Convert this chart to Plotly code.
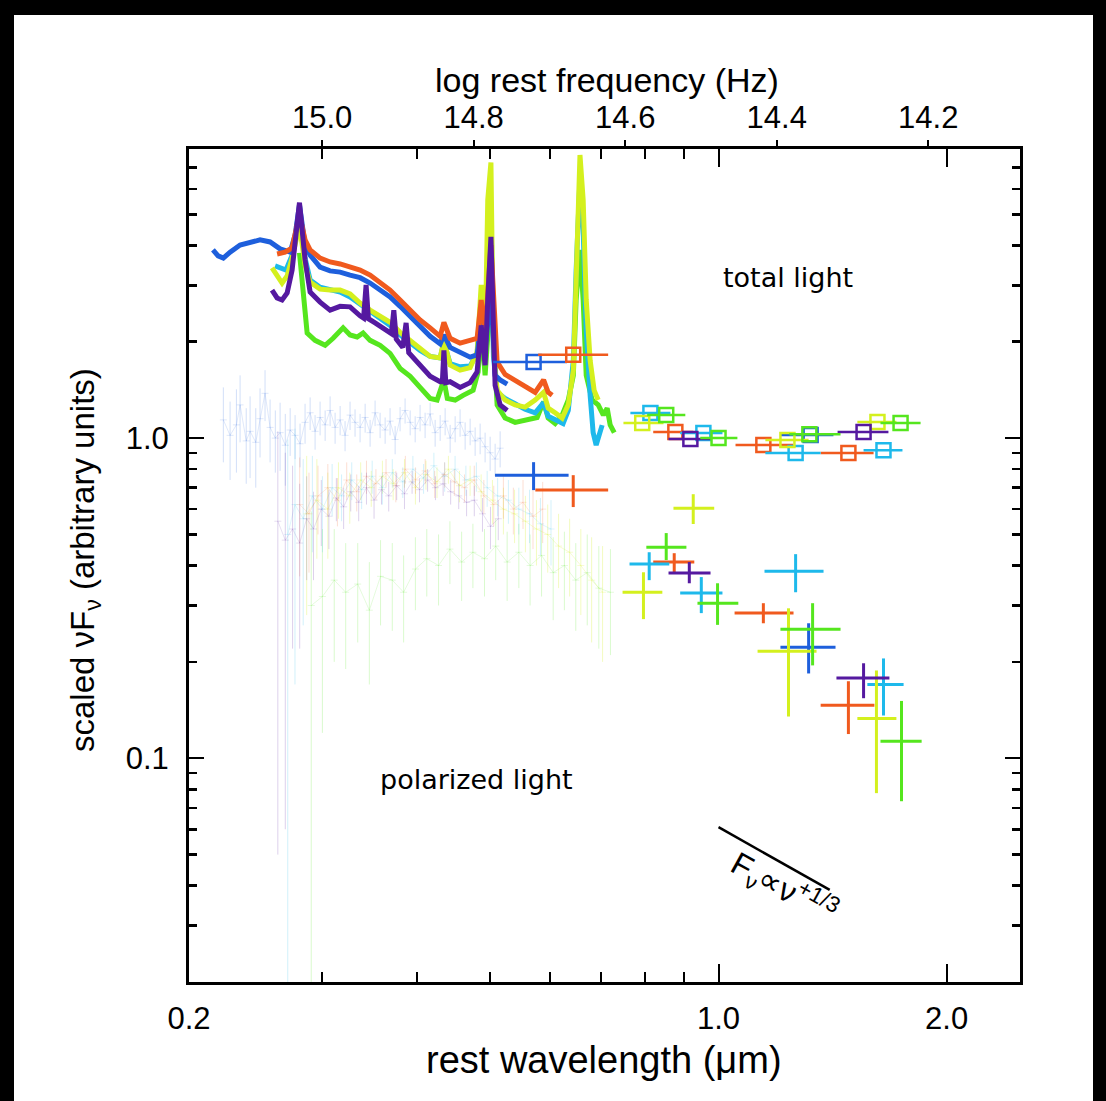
import math
import plotly.graph_objects as go

# ---------------- colours ----------------
C_BLUE = "rgb(30,95,220)"
C_ORANGE = "rgb(240,90,30)"
C_CYAN = "rgb(30,185,235)"
C_YELLOW = "rgb(212,240,30)"
C_PURPLE = "rgb(85,25,160)"
C_GREEN = "rgb(85,230,30)"

# ---------------- axis ticks ----------------
wl_ticks = [0.2, 1.0, 2.0]
wl_ticktext = ["0.2", "1.0", "2.0"]
wl_minor = [0.3, 0.4, 0.5, 0.6, 0.7, 0.8, 0.9]
freq_ticks = [15.0, 14.8, 14.6, 14.4, 14.2]
freq_ticktext = ["15.0", "14.8", "14.6", "14.4", "14.2"]
f_ticks = [0.1, 1.0]
f_ticktext = ["0.1", "1.0"]
f_minor = [0.03, 0.04, 0.05, 0.06, 0.07, 0.08, 0.09,
           0.2, 0.3, 0.4, 0.5, 0.6, 0.7, 0.8, 0.9,
           2, 3, 4, 5, 6, 7]
WL_MIN, WL_MAX = 0.2, 2.5
F_MIN, F_MAX = 0.02, 8.0
LOG_C_UM = math.log10(2.99792458e14)  # log10 of c in micron/s

# ---------------- total-light spectra ----------------
blue_tot_wl = [0.2151,0.2185,0.2220,0.2266,0.2336,0.2408,0.2482,0.2559,0.2638,0.2720,0.2761,0.2798,0.2846,0.2890,0.2979,0.3071,0.3166,0.3263,0.3364,0.3468,0.3575,0.3685,0.3799,0.3917,0.4037,0.4162,0.4291,0.4340,0.4423,0.4559,0.4700,0.4801,0.4861,0.4919,0.5007,0.5071,0.5149,0.5261]
blue_tot_f = [3.87,3.71,3.65,3.81,4.01,4.07,4.16,4.10,3.90,3.81,4.31,5.35,4.01,3.73,3.42,3.33,3.30,3.23,3.17,3.05,2.90,2.76,2.58,2.41,2.24,2.08,1.97,2.10,1.92,1.86,1.79,1.82,2.34,1.88,2.90,1.57,1.52,1.475]

orange_tot_wl = [0.2614,0.2678,0.2736,0.2798,0.2846,0.2890,0.2979,0.3071,0.3166,0.3263,0.3364,0.3468,0.3575,0.3685,0.3799,0.3917,0.4037,0.4162,0.4291,0.4340,0.4423,0.4559,0.4700,0.4801,0.4861,0.4919,0.5007,0.5102,0.5228,0.5389,0.5555,0.5727,0.5876,0.5958,0.6031]
orange_tot_f = [3.76,3.81,3.93,4.98,4.16,3.87,3.65,3.55,3.50,3.42,3.35,3.23,3.07,2.90,2.70,2.51,2.34,2.21,2.08,2.30,2.05,1.98,2.02,2.05,2.70,2.10,4.01,1.73,1.58,1.51,1.44,1.39,1.52,1.39,1.36]

purple_tot_wl = [0.2574,0.2614,0.2654,0.2695,0.2736,0.2798,0.2846,0.2890,0.2979,0.3071,0.3166,0.3263,0.3364,0.3400,0.3426,0.3450,0.3521,0.3630,0.3700,0.3727,0.3755,0.3830,0.3869,0.3900,0.4037,0.4162,0.4291,0.4320,0.4340,0.4365,0.4423,0.4559,0.4700,0.4801,0.4861,0.4919,0.4959,0.5007,0.5071,0.5149,0.5261]
purple_tot_f = [2.90,2.74,2.70,2.84,3.35,5.44,3.60,2.86,2.66,2.51,2.58,2.57,2.41,2.37,3.01,2.36,2.29,2.18,2.12,2.51,2.04,1.92,2.29,1.85,1.68,1.56,1.50,1.50,1.88,1.49,1.50,1.44,1.49,1.61,2.25,1.69,2.70,4.25,1.46,1.27,1.22]

yellow_tot_wl = [0.2574,0.2614,0.2654,0.2695,0.2736,0.2798,0.2846,0.2890,0.2979,0.3071,0.3166,0.3263,0.3364,0.3468,0.3575,0.3685,0.3799,0.3917,0.4037,0.4162,0.4291,0.4340,0.4423,0.4559,0.4700,0.4801,0.4861,0.4919,0.4959,0.5007,0.5045,0.5102,0.5228,0.5389,0.5555,0.5727,0.5876,0.5958,0.6086,0.6217,0.6334,0.6432,0.6487,0.6563,0.6627,0.6689,0.6769,0.6852,0.6937]
yellow_tot_f = [3.40,3.21,3.05,3.21,3.65,4.63,3.47,3.07,2.92,2.90,2.90,2.82,2.64,2.51,2.41,2.30,2.14,2.02,1.91,1.80,1.78,2.02,1.69,1.63,1.66,1.86,3.01,1.95,5.55,7.26,1.90,1.41,1.315,1.27,1.25,1.315,1.39,1.24,1.20,1.155,1.27,1.63,3.12,7.66,5.55,2.70,1.75,1.41,1.315]

cyan_tot_wl = [0.2598,0.2638,0.2686,0.2736,0.2798,0.2846,0.2890,0.2979,0.3071,0.3166,0.3263,0.3364,0.3468,0.3575,0.3685,0.3799,0.3917,0.4037,0.4162,0.4291,0.4340,0.4423,0.4559,0.4700,0.4801,0.4861,0.4919,0.4959,0.5007,0.5045,0.5102,0.5228,0.5389,0.5555,0.5727,0.5876,0.5958,0.6104,0.6235,0.6334,0.6432,0.6487,0.6563,0.6627,0.6689,0.6769,0.6831,0.6894,0.6957,0.7021]
cyan_tot_f = [3.45,3.40,3.35,3.73,4.80,3.65,3.12,2.96,2.92,2.86,2.76,2.62,2.48,2.37,2.25,2.10,1.98,1.88,1.80,1.78,1.99,1.71,1.67,1.68,1.84,2.70,1.91,3.87,5.35,1.80,1.39,1.33,1.28,1.23,1.20,1.29,1.17,1.14,1.11,1.22,1.75,3.35,6.49,4.47,2.18,1.36,1.04,0.951,1.014,1.098]

green_tot_wl = [0.2798,0.2864,0.2934,0.3025,0.3099,0.3195,0.3263,0.3334,0.3395,0.3468,0.3575,0.3685,0.3799,0.3917,0.4037,0.4162,0.4251,0.4340,0.4385,0.4491,0.4601,0.4743,0.4816,0.4861,0.4919,0.4959,0.5007,0.5102,0.5228,0.5389,0.5555,0.5762,0.5876,0.5958,0.6086,0.6217,0.6334,0.6432,0.6487,0.6563,0.6627,0.6689,0.6811,0.6937,0.7047,0.7129,0.7194,0.7284]
green_tot_f = [3.79,2.13,2.02,1.95,2.05,2.21,2.10,2.07,2.13,2.02,1.95,1.84,1.65,1.56,1.44,1.33,1.315,1.52,1.33,1.315,1.36,1.41,1.61,2.25,1.57,2.18,2.90,1.27,1.155,1.12,1.14,1.16,1.30,1.155,1.11,1.18,1.315,1.57,2.70,3.87,2.70,1.57,1.315,1.27,1.18,1.24,1.10,1.04]

# ---------------- polarized-light spectra (faint) ----------------
pol_blue_wl = [0.222,0.2266,0.231,0.2336,0.238,0.2408,0.245,0.2482,0.252,0.2559,0.260,0.2638,0.268,0.272,0.2761,0.2803,0.2846,0.289,0.2934,0.2979,0.3025,0.3071,0.3118,0.3166,0.3214,0.3263,0.3313,0.3364,0.3416,0.3468,0.3521,0.3575,0.363,0.3685,0.3742,0.3799,0.3857,0.3917,0.3977,0.4037,0.4099,0.4162,0.4226,0.4291,0.4356,0.4423,0.4491,0.4559,0.4629,0.47,0.4772,0.4845,0.4919,0.4995,0.5071,0.5149]
pol_blue_f = [1.14,1.02,1.10,1.27,0.98,1.05,0.97,1.15,1.38,1.08,1.00,1.04,0.95,1.06,1.02,0.96,1.12,1.20,1.05,1.16,1.10,1.22,1.08,1.14,1.02,1.18,1.12,1.08,1.16,1.04,1.20,1.10,1.06,1.13,0.99,1.15,1.22,1.12,1.07,1.16,1.10,1.19,1.04,1.08,1.13,1.00,1.07,1.12,1.02,1.05,0.98,1.00,0.94,0.90,0.86,0.93]
pol_blue_e = [0.30,0.28,0.32,0.30,0.26,0.30,0.27,0.28,0.25,0.24,0.22,0.25,0.24,0.18,0.16,0.15,0.16,0.14,0.13,0.14,0.12,0.13,0.12,0.12,0.11,0.12,0.11,0.11,0.12,0.10,0.11,0.10,0.10,0.11,0.10,0.10,0.11,0.10,0.10,0.11,0.10,0.10,0.10,0.10,0.11,0.10,0.10,0.11,0.10,0.10,0.10,0.11,0.10,0.11,0.10,0.12]

pol_purple_wl = [0.262,0.268,0.274,0.280,0.286,0.292,0.299,0.306,0.313,0.320,0.327,0.335,0.343,0.351,0.359,0.367,0.376,0.385,0.394,0.403,0.413,0.423,0.433,0.443,0.454,0.465,0.476,0.488,0.500,0.512]
pol_purple_f = [0.55,0.48,0.52,0.47,0.56,0.52,0.60,0.57,0.65,0.61,0.68,0.63,0.70,0.64,0.69,0.66,0.71,0.67,0.73,0.69,0.74,0.70,0.72,0.68,0.66,0.63,0.64,0.58,0.53,0.56]
pol_purple_e = [0.50,0.42,0.30,0.25,0.20,0.16,0.14,0.12,0.10,0.09,0.09,0.08,0.08,0.08,0.07,0.07,0.07,0.07,0.06,0.06,0.06,0.06,0.06,0.06,0.06,0.06,0.07,0.07,0.08,0.08]

pol_orange_wl = [0.280,0.288,0.296,0.305,0.314,0.323,0.333,0.343,0.353,0.364,0.375,0.386,0.398,0.410,0.422,0.435,0.448,0.462,0.476,0.490,0.505,0.520,0.536,0.552,0.569,0.586]
pol_orange_f = [0.62,0.58,0.66,0.70,0.64,0.74,0.68,0.76,0.72,0.78,0.71,0.80,0.74,0.79,0.72,0.77,0.73,0.70,0.74,0.66,0.62,0.66,0.60,0.63,0.57,0.60]
pol_orange_e = [0.25,0.20,0.16,0.13,0.11,0.10,0.09,0.09,0.08,0.08,0.08,0.08,0.07,0.07,0.07,0.07,0.07,0.07,0.08,0.08,0.09,0.10,0.10,0.11,0.12,0.13]

pol_yellow_wl = [0.286,0.295,0.305,0.315,0.326,0.337,0.348,0.360,0.372,0.385,0.398,0.411,0.425,0.440,0.455,0.470,0.486,0.503,0.520,0.538,0.556,0.575,0.595,0.615,0.636,0.658,0.680,0.703]
pol_yellow_f = [0.58,0.64,0.60,0.70,0.66,0.74,0.70,0.76,0.72,0.78,0.70,0.77,0.73,0.80,0.71,0.74,0.68,0.64,0.60,0.58,0.55,0.52,0.50,0.46,0.44,0.40,0.36,0.33]
pol_yellow_e = [0.30,0.22,0.18,0.14,0.12,0.10,0.09,0.09,0.08,0.08,0.08,0.08,0.08,0.08,0.08,0.08,0.09,0.10,0.10,0.11,0.11,0.12,0.12,0.12,0.12,0.12,0.13,0.13]

pol_cyan_wl = [0.270,0.276,0.283,0.291,0.300,0.309,0.318,0.328,0.338,0.349,0.360,0.371,0.383,0.395,0.408,0.421,0.435,0.449,0.464,0.479,0.495,0.511,0.528,0.545,0.563,0.582,0.601]
pol_cyan_f = [0.50,0.62,0.56,0.66,0.60,0.70,0.66,0.74,0.69,0.76,0.70,0.78,0.73,0.80,0.75,0.82,0.76,0.80,0.74,0.76,0.70,0.66,0.64,0.60,0.58,0.54,0.52]
pol_cyan_e = [0.49,0.45,0.30,0.22,0.16,0.13,0.11,0.10,0.09,0.09,0.08,0.08,0.08,0.08,0.08,0.08,0.08,0.08,0.08,0.08,0.09,0.09,0.10,0.10,0.11,0.11,0.12]

pol_green_wl = [0.290,0.300,0.311,0.322,0.334,0.346,0.358,0.371,0.384,0.398,0.412,0.427,0.442,0.458,0.474,0.491,0.508,0.526,0.545,0.564,0.584,0.605,0.626,0.648,0.671,0.695,0.720]
pol_green_f = [0.30,0.32,0.36,0.33,0.35,0.29,0.37,0.36,0.33,0.39,0.42,0.40,0.45,0.41,0.44,0.42,0.46,0.41,0.44,0.40,0.43,0.38,0.40,0.36,0.38,0.34,0.33]
pol_green_e = [0.29,0.20,0.16,0.14,0.12,0.12,0.11,0.11,0.10,0.10,0.10,0.10,0.10,0.10,0.10,0.10,0.10,0.10,0.10,0.10,0.11,0.11,0.11,0.11,0.12,0.12,0.12]

# ---------------- broadband total light (squares) ----------------
blue_sq_wl = [0.570, 1.323]; blue_sq_lo = [0.504, 1.207]; blue_sq_hi = [0.631, 1.418]; blue_sq_f = [1.728, 1.022]
orange_sq_wl = [0.643, 0.877, 1.146, 1.484]; orange_sq_lo = [0.578, 0.820, 1.053, 1.364]; orange_sq_hi = [0.715, 0.926, 1.256, 1.602]; orange_sq_f = [1.82, 1.044, 0.951, 0.898]
cyan_sq_wl = [0.813, 0.955, 1.264, 1.651]; cyan_sq_lo = [0.765, 0.890, 1.153, 1.554]; cyan_sq_hi = [0.864, 1.012, 1.364, 1.749]; cyan_sq_f = [1.197, 1.037, 0.898, 0.917]
yellow_sq_wl = [0.793, 1.233, 1.621]; yellow_sq_lo = [0.749, 1.153, 1.525]; yellow_sq_hi = [0.846, 1.315, 1.717]; yellow_sq_f = [1.114, 0.986, 1.122]
purple_sq_wl = [0.918, 1.554]; purple_sq_lo = [0.859, 1.436]; purple_sq_hi = [0.976, 1.676]; purple_sq_f = [0.993, 1.044]
green_sq_wl = [0.853, 1.000, 1.318, 1.739]; green_sq_lo = [0.805, 0.946, 1.240, 1.636]; green_sq_hi = [0.904, 1.059, 1.449, 1.848]; green_sq_f = [1.18, 1.0, 1.029, 1.114]

# ---------------- broadband polarized light (crosses) ----------------
blue_pl_wl = [0.570, 1.315]; blue_pl_lo = [0.507, 1.207]; blue_pl_hi = [0.634, 1.427]
blue_pl_f = [0.766, 0.222]; blue_pl_flo = [0.688, 0.184]; blue_pl_fhi = [0.841, 0.264]
orange_pl_wl = [0.643, 0.874, 1.146, 1.484]; orange_pl_lo = [0.573, 0.820, 1.050, 1.364]; orange_pl_hi = [0.715, 0.929, 1.256, 1.606]
orange_pl_f = [0.688, 0.410, 0.284, 0.1465]; orange_pl_flo = [0.609, 0.381, 0.264, 0.119]; orange_pl_fhi = [0.766, 0.437, 0.305, 0.174]
cyan_pl_wl = [0.810, 0.949, 1.264, 1.651]; cyan_pl_lo = [0.763, 0.890, 1.150, 1.572]; cyan_pl_hi = [0.861, 1.012, 1.376, 1.755]
cyan_pl_f = [0.404, 0.328, 0.384, 0.170]; cyan_pl_flo = [0.360, 0.284, 0.330, 0.136]; cyan_pl_fhi = [0.440, 0.368, 0.434, 0.205]
yellow_pl_wl = [0.926, 0.796, 1.237, 1.616]; yellow_pl_lo = [0.872, 0.747, 1.126, 1.525]; yellow_pl_hi = [0.987, 0.843, 1.347, 1.717]
yellow_pl_f = [0.604, 0.330, 0.216, 0.133]; yellow_pl_flo = [0.539, 0.272, 0.135, 0.0778]; yellow_pl_fhi = [0.668, 0.381, 0.294, 0.188]
purple_pl_wl = [0.915, 1.554]; purple_pl_lo = [0.859, 1.431]; purple_pl_hi = [0.976, 1.681]
purple_pl_f = [0.379, 0.178]; purple_pl_flo = [0.352, 0.154]; purple_pl_fhi = [0.410, 0.198]
green_pl_wl = [0.853, 0.997, 1.331, 1.744]; green_pl_lo = [0.803, 0.938, 1.207, 1.636]; green_pl_hi = [0.907, 1.062, 1.449, 1.854]
green_pl_f = [0.456, 0.305, 0.253, 0.113]; green_pl_flo = [0.416, 0.261, 0.195, 0.0734]; green_pl_fhi = [0.505, 0.352, 0.305, 0.151]

# ---------------- power-law guide ----------------
slope_wl = [1.0, 1.402]
slope_f = [0.0609, 0.0388]

fig = go.Figure()

def faint(c, a):
    return c.replace("rgb", "rgba").replace(")", ",%s)" % a)

# faint polarized spectra
for wl, f, e, c, a in [
    (pol_blue_wl, pol_blue_f, pol_blue_e, C_BLUE, 0.2),
    (pol_green_wl, pol_green_f, pol_green_e, C_GREEN, 0.22),
    (pol_yellow_wl, pol_yellow_f, pol_yellow_e, C_YELLOW, 0.28),
    (pol_cyan_wl, pol_cyan_f, pol_cyan_e, C_CYAN, 0.2),
    (pol_orange_wl, pol_orange_f, pol_orange_e, C_ORANGE, 0.2),
    (pol_purple_wl, pol_purple_f, pol_purple_e, C_PURPLE, 0.2),
]:
    fig.add_trace(go.Scatter(
        x=wl, y=f, mode="lines+markers",
        line=dict(color=faint(c, a * 0.7), width=1),
        marker=dict(symbol="line-ew-open", size=5, line=dict(color=faint(c, a), width=1)),
        error_y=dict(type="data", array=e, color=faint(c, a), thickness=1, width=0),
        hoverinfo="skip", showlegend=False))

# total-light spectra
for wl, f, c in [
    (green_tot_wl, green_tot_f, C_GREEN),
    (cyan_tot_wl, cyan_tot_f, C_CYAN),
    (yellow_tot_wl, yellow_tot_f, C_YELLOW),
    (blue_tot_wl, blue_tot_f, C_BLUE),
    (orange_tot_wl, orange_tot_f, C_ORANGE),
    (purple_tot_wl, purple_tot_f, C_PURPLE),
]:
    fig.add_trace(go.Scatter(x=wl, y=f, mode="lines",
                             line=dict(color=c, width=5),
                             hoverinfo="skip", showlegend=False))

# broadband squares
for wl, lo, hi, f, c in [
    (blue_sq_wl, blue_sq_lo, blue_sq_hi, blue_sq_f, C_BLUE),
    (orange_sq_wl, orange_sq_lo, orange_sq_hi, orange_sq_f, C_ORANGE),
    (cyan_sq_wl, cyan_sq_lo, cyan_sq_hi, cyan_sq_f, C_CYAN),
    (yellow_sq_wl, yellow_sq_lo, yellow_sq_hi, yellow_sq_f, C_YELLOW),
    (purple_sq_wl, purple_sq_lo, purple_sq_hi, purple_sq_f, C_PURPLE),
    (green_sq_wl, green_sq_lo, green_sq_hi, green_sq_f, C_GREEN),
]:
    fig.add_trace(go.Scatter(
        x=wl, y=f, mode="markers",
        marker=dict(symbol="square-open", size=14, color=c, line=dict(color=c, width=2.5)),
        error_x=dict(type="data", symmetric=False,
                     array=[h - w for h, w in zip(hi, wl)],
                     arrayminus=[w - l for w, l in zip(wl, lo)],
                     color=c, thickness=2.5, width=0),
        hoverinfo="skip", showlegend=False))

# broadband polarized crosses
for wl, lo, hi, f, flo, fhi, c in [
    (blue_pl_wl, blue_pl_lo, blue_pl_hi, blue_pl_f, blue_pl_flo, blue_pl_fhi, C_BLUE),
    (orange_pl_wl, orange_pl_lo, orange_pl_hi, orange_pl_f, orange_pl_flo, orange_pl_fhi, C_ORANGE),
    (cyan_pl_wl, cyan_pl_lo, cyan_pl_hi, cyan_pl_f, cyan_pl_flo, cyan_pl_fhi, C_CYAN),
    (yellow_pl_wl, yellow_pl_lo, yellow_pl_hi, yellow_pl_f, yellow_pl_flo, yellow_pl_fhi, C_YELLOW),
    (purple_pl_wl, purple_pl_lo, purple_pl_hi, purple_pl_f, purple_pl_flo, purple_pl_fhi, C_PURPLE),
    (green_pl_wl, green_pl_lo, green_pl_hi, green_pl_f, green_pl_flo, green_pl_fhi, C_GREEN),
]:
    fig.add_trace(go.Scatter(
        x=wl, y=f, mode="markers",
        marker=dict(size=1, color=c, opacity=0),
        error_x=dict(type="data", symmetric=False,
                     array=[h - w for h, w in zip(hi, wl)],
                     arrayminus=[w - l for w, l in zip(wl, lo)],
                     color=c, thickness=3, width=0),
        error_y=dict(type="data", symmetric=False,
                     array=[h - v for h, v in zip(fhi, f)],
                     arrayminus=[v - l for v, l in zip(f, flo)],
                     color=c, thickness=3, width=0),
        hoverinfo="skip", showlegend=False))

# power-law guide line
fig.add_trace(go.Scatter(x=slope_wl, y=slope_f, mode="lines",
                         line=dict(color="black", width=2.5),
                         hoverinfo="skip", showlegend=False))

# invisible trace to register the top frequency axis
fig.add_trace(go.Scatter(x=freq_ticks, y=[1.0] * len(freq_ticks), xaxis="x2", yaxis="y",
                         mode="markers", marker=dict(opacity=0, size=1),
                         hoverinfo="skip", showlegend=False))

FONT = "Liberation Sans, Arial, Helvetica, sans-serif"
TICKFONT = dict(family=FONT, size=31, color="black")

L, R, T, B = 189, 1020, 149, 982
W, H = 1106, 1101
PW, PH = R - L, B - T

def px(xp):
    return (xp - L) / PW

def py(yp):
    return (B - yp) / PH

fig.update_layout(
    width=W, height=H,
    margin=dict(l=L, r=W - R, t=T, b=H - B, pad=0),
    paper_bgcolor="black", plot_bgcolor="white",
    showlegend=False,
    font=dict(family=FONT, color="black"),
    xaxis=dict(
        type="log", range=[math.log10(WL_MIN), math.log10(WL_MAX)],
        tickmode="array", tickvals=wl_ticks, ticktext=wl_ticktext,
        ticks="inside", ticklen=18, tickwidth=2, tickcolor="black",
        showline=True, linewidth=3, linecolor="black", mirror="ticks",
        showgrid=False, zeroline=False, tickfont=TICKFONT,
        ticklabelstandoff=7,
        minor=dict(tickmode="array", tickvals=wl_minor, ticks="inside",
                   ticklen=10, tickwidth=2, tickcolor="black", showgrid=False),
    ),
    xaxis2=dict(
        overlaying="x", side="top", anchor="y",
        range=[LOG_C_UM - math.log10(WL_MIN), LOG_C_UM - math.log10(WL_MAX)],
        tickmode="array", tickvals=freq_ticks, ticktext=freq_ticktext,
        ticks="outside", ticklen=8, tickwidth=2, tickcolor="black",
        showline=False, showgrid=False, zeroline=False, tickfont=TICKFONT,
        ticklabelstandoff=0,
    ),
    yaxis=dict(
        type="log", range=[math.log10(F_MIN), math.log10(F_MAX)],
        tickmode="array", tickvals=f_ticks, ticktext=f_ticktext,
        ticks="inside", ticklen=15, tickwidth=2.5, tickcolor="black",
        showline=True, linewidth=3, linecolor="black", mirror="ticks",
        showgrid=False, zeroline=False, tickfont=TICKFONT,
        ticklabelstandoff=11,
        minor=dict(tickmode="array", tickvals=f_minor, ticks="inside",
                   ticklen=8, tickwidth=2.5, tickcolor="black", showgrid=False),
    ),
    shapes=[dict(type="rect", xref="paper", yref="paper", layer="below",
                 x0=px(14), x1=px(1093), y0=py(1200), y1=py(15),
                 fillcolor="white", line=dict(width=0))],
    annotations=[
        dict(text="log rest frequency (Hz)", xref="paper", yref="paper",
             x=px(607), y=py(80), showarrow=False, xanchor="center", yanchor="middle",
             font=dict(family=FONT, size=34, color="black")),
        dict(text="rest wavelength (μm)", xref="paper", yref="paper",
             x=px(604), y=py(1060), showarrow=False, xanchor="center", yanchor="middle",
             font=dict(family=FONT, size=38, color="black")),
        dict(text="scaled νF<sub>ν</sub> (arbitrary units)", xref="paper", yref="paper",
             x=px(85), y=py(560), showarrow=False, xanchor="center", yanchor="middle",
             textangle=-90, font=dict(family=FONT, size=33, color="black")),
        dict(text="total light", xref="paper", yref="paper",
             x=px(788), y=py(277), showarrow=False, xanchor="center", yanchor="middle",
             font=dict(family="DejaVu Sans, sans-serif", size=27, color="black")),
        dict(text="polarized light", xref="paper", yref="paper",
             x=px(476), y=py(779), showarrow=False, xanchor="center", yanchor="middle",
             font=dict(family="DejaVu Sans, sans-serif", size=27, color="black")),
        dict(text="F<sub>ν</sub>∝ν<sup>+1/3</sup>", xref="paper", yref="paper",
             x=px(784), y=py(888), showarrow=False, xanchor="center", yanchor="middle",
             textangle=29, font=dict(family=FONT, size=32, color="black")),
    ],
)

fig.write_html("out.html",
               config={"displayModeBar": False, "staticPlot": True},
               post_script="document.body.style.margin='0px';document.body.style.overflow='hidden';")
